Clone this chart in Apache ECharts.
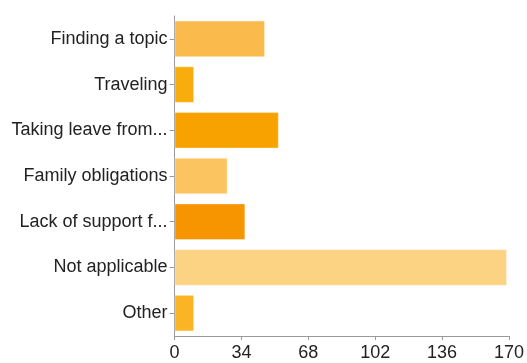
<!DOCTYPE html>
<html>
<head>
<meta charset="utf-8">
<script src="https://cdn.jsdelivr.net/npm/echarts@6/dist/echarts.min.js"></script>
<style>
  html, body { margin: 0; padding: 0; background: #fff; }
  #chart { width: 527px; height: 363px; }
</style>
</head>
<body>
<div id="chart"></div>
<script>
// Response categories, top to bottom
const categories = [
  'Finding a topic',
  'Traveling',
  'Taking leave from...',
  'Family obligations',
  'Lack of support f...',
  'Not applicable',
  'Other'
];
// Number of responses per category
const counts = [46, 10, 53, 27, 36, 169, 10];
// Fill colour for each bar
const barColors = ['#fbbb4c', '#f9ad0c', '#f8a200', '#fcc461', '#f69500', '#fcd283', '#fbb524'];
// Value axis ticks
const xTicks = [0, 34, 68, 102, 136, 170];

const chart = echarts.init(document.getElementById('chart'), null, { renderer: 'canvas' });

chart.setOption({
  animation: false,
  grid: { left: 174.5, right: 17, top: 16, bottom: 27, containLabel: false },
  xAxis: {
    type: 'value',
    min: xTicks[0],
    max: xTicks[xTicks.length - 1],
    interval: xTicks[1] - xTicks[0],
    axisLine: { show: true, lineStyle: { color: '#9a9a9a', width: 1 } },
    axisTick: { show: true, length: 4, lineStyle: { color: '#9a9a9a' } },
    splitLine: { show: false },
    axisLabel: {
      color: '#222', fontSize: 18, margin: 8,
      fontFamily: 'Liberation Sans, Arial, Helvetica, sans-serif'
    }
  },
  yAxis: {
    type: 'category',
    data: categories,
    inverse: true,
    axisLine: { show: true, lineStyle: { color: '#9a9a9a', width: 1 } },
    axisTick: { show: true, length: 5, alignWithLabel: true, lineStyle: { color: '#9a9a9a' } },
    axisLabel: {
      color: '#222', fontSize: 18, margin: 7,
      fontFamily: 'Liberation Sans, Arial, Helvetica, sans-serif'
    }
  },
  series: [{
    type: 'bar',
    data: counts.map((v, i) => ({ value: v, itemStyle: { color: barColors[i] } })),
    barCategoryGap: '20%',
    itemStyle: { borderColor: 'rgba(255,255,255,0.35)', borderWidth: 1 }
  }]
});
</script>
</body>
</html>
